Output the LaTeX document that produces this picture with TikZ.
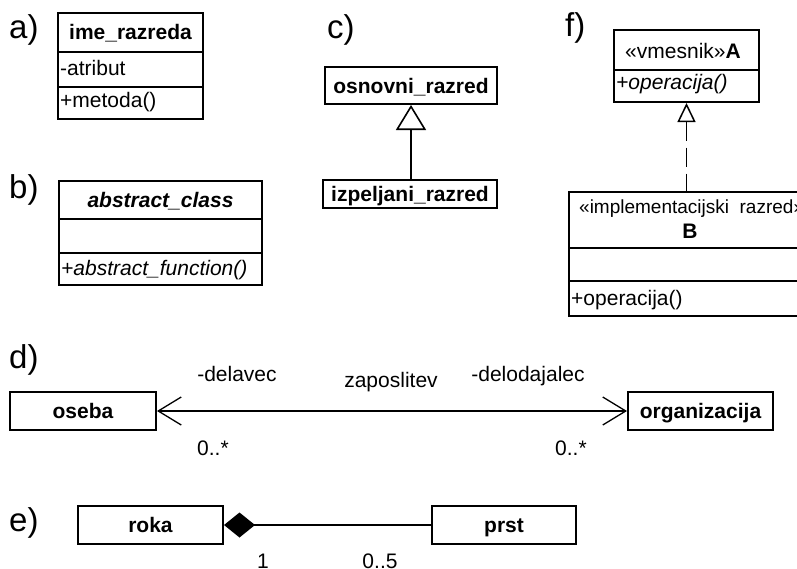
\documentclass[tikz,border=0pt]{standalone}
\usepackage{fontspec}
\setmainfont{Liberation Sans}
\usetikzlibrary{arrows.meta}

\begin{document}
\begin{tikzpicture}[x=1pt,y=-1pt,
  every node/.style={font=\fontsize{21}{25}\selectfont, inner sep=0pt},
  umlbox/.style={draw, line width=2pt, inner sep=0pt, text height=15pt, text depth=0pt,
                 font=\fontsize{21}{25}\selectfont\bfseries},
  part/.style={line width=2pt},
  lbl/.style={font=\fontsize{33}{40}\selectfont, anchor=base west},
  txt/.style={anchor=base},
  ltxt/.style={anchor=base west},
  conn/.style={line width=1.3pt},
]
\path[use as bounding box] (0,0) rectangle (797,568);
\clip (0,0) rectangle (797,568);

% ---------- a) class with attribute and operation
\node[lbl] (la) at (9,38) {a)};
\node[umlbox, minimum width=145pt, minimum height=106pt] (cls) at (130.5,66) {};
\draw[part] (cls.west |- 0,52) -- (cls.east |- 0,52);
\draw[part] (cls.west |- 0,87) -- (cls.east |- 0,87);
\node[txt, font=\fontsize{21}{25}\selectfont\bfseries] (clsname) at (130.5,39) {ime\_razreda};
\node[ltxt] (clsattr) at (60,75) {-atribut};
\node[ltxt] (clsop) at (60,107) {+metoda()};

% ---------- b) abstract class
\node[lbl] (lb) at (9,198) {b)};
\node[umlbox, minimum width=203pt, minimum height=104pt] (abs) at (160.5,233) {};
\draw[part] (abs.west |- 0,219) -- (abs.east |- 0,219);
\draw[part] (abs.west |- 0,253) -- (abs.east |- 0,253);
\node[txt, font=\fontsize{21}{25}\selectfont\bfseries\itshape] (absname) at (160.5,207) {abstract\_class};
\node[ltxt, font=\fontsize{21}{25}\selectfont\itshape] (absop) at (61,275) {+abstract\_function()};

% ---------- c) generalisation
\node[lbl] (lc) at (327,38) {c)};
\node[umlbox, minimum width=172pt, minimum height=37pt] (base) at (411,85.5) {osnovni\_razred};
\node[umlbox, minimum width=174pt, minimum height=28pt] (deriv) at (410,194) {izpeljani\_razred};
\draw[conn, -{Triangle[open, length=25pt, width=30pt, line width=1.6pt]}]
  (deriv.north -| base.south) -- (base.south);

% ---------- f) interface and implementation
\node[lbl] (lf) at (565,36) {f)};
\node[umlbox, minimum width=145pt, minimum height=72pt] (ifc) at (686.5,66) {};
\draw[part] (ifc.west |- 0,70) -- (ifc.east |- 0,70);
\node[txt] (ifcname) at (683,58) {«vmesnik»\textbf{A}};
\node[ltxt, font=\fontsize{21}{25}\selectfont\itshape] (ifcop) at (616,89) {+operacija()};

\node[umlbox, minimum width=242pt, minimum height=124pt] (impl) at (690,254) {};
\draw[part] (impl.west |- 0,248) -- (impl.east |- 0,248);
\draw[part] (impl.west |- 0,281) -- (impl.east |- 0,281);
\node[ltxt, font=\fontsize{19}{23}\selectfont] (implst) at (579,213) {«implementacijski\ \ razred»};
\node[txt, font=\fontsize{21}{25}\selectfont\bfseries] (implname) at (690,238) {B};
\node[ltxt] (implop) at (571,305) {+operacija()};

\draw[conn, line width=1.6pt, dash pattern=on 19pt off 7pt,
      {Triangle[open, length=19pt, width=18pt, line width=1.5pt]}-]
  (ifc.south) -- (ifc.south |- impl.north);

% ---------- d) association
\node[lbl] (ld) at (9,368) {d)};
\node[umlbox, minimum width=146pt, minimum height=38pt] (oseba) at (83,411) {oseba};
\node[umlbox, minimum width=145pt, minimum height=38pt] (org) at (700.5,411) {organizacija};
\draw[conn, {Straight Barb[length=23pt, width=28pt]}-{Straight Barb[length=23pt, width=28pt]}]
  (oseba.east) -- (org.west);
\node[txt] (role1) at (237,381) {-delavec};
\node[txt] (assoc) at (391,387) {zaposlitev};
\node[txt] (role2) at (528,381) {-delodajalec};
\node[ltxt] (mult1) at (197,455) {0..*};
\node[ltxt] (mult2) at (555,455) {0..*};

% ---------- e) composition
\node[lbl] (le) at (9,531) {e)};
\node[umlbox, minimum width=145pt, minimum height=38pt] (roka) at (150.5,525) {roka};
\node[umlbox, minimum width=144pt, minimum height=38pt] (prst) at (504,525) {prst};
\draw[conn, {Diamond[length=31pt, width=25pt]}-] (roka.east) -- (prst.west);
\node[txt] (multa) at (263,568) {1};
\node[txt] (multb) at (380,568) {0..5};
\end{tikzpicture}
\end{document}
